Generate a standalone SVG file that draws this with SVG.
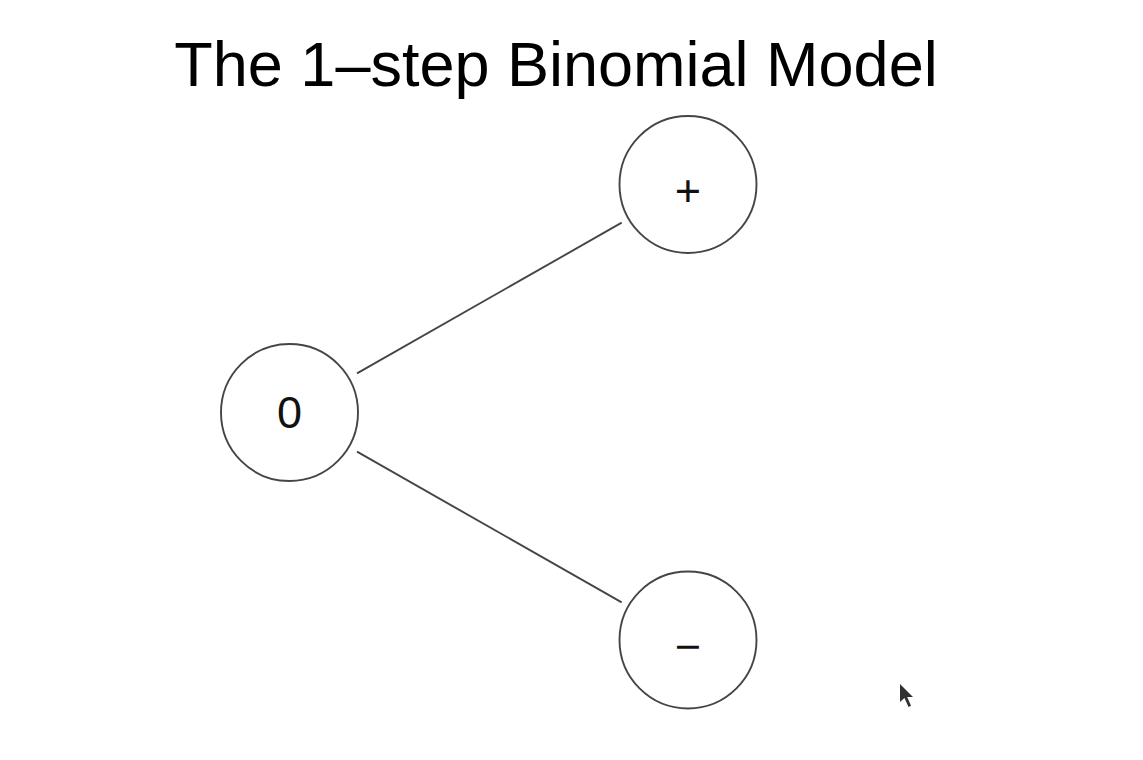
<svg xmlns="http://www.w3.org/2000/svg" width="1143" height="760" viewBox="0 0 1143 760">
  <style>
    .node circle { fill: #ffffff; stroke: #454545; stroke-width: 1.9; }
    .node text { font-family: "Liberation Sans", Arial, sans-serif; font-size: 45px; fill: #111111; text-anchor: middle; }
    .edge { stroke: #454545; stroke-width: 1.9; fill: none; }
    .title { font-family: "Liberation Sans", Arial, sans-serif; font-size: 63px; fill: #000000; text-anchor: middle; }
  </style>
  <rect width="1143" height="760" fill="#ffffff"/>
  <text class="title" x="556" y="86">The 1–step Binomial Model</text>
  <g id="connectors">
    <line class="edge" x1="357" y1="373.3" x2="621.7" y2="222.7"/>
    <line class="edge" x1="357" y1="451.7" x2="621.7" y2="602.3"/>
  </g>
  <g id="node-0" class="node">
    <circle cx="289.5" cy="412.5" r="68.5"/>
    <text x="289.5" y="428">0</text>
  </g>
  <g id="node-plus" class="node">
    <circle cx="688" cy="184.5" r="68.5"/>
    <text x="688" y="206">+</text>
  </g>
  <g id="node-minus" class="node">
    <circle cx="688" cy="640" r="68.5"/>
    <text x="688" y="662">−</text>
  </g>
  <polygon points="900,684 900,702 904.5,698 908.5,707 911,705.8 907.2,697 913,697" fill="#1a1a1a" opacity="0.9"/>
</svg>
